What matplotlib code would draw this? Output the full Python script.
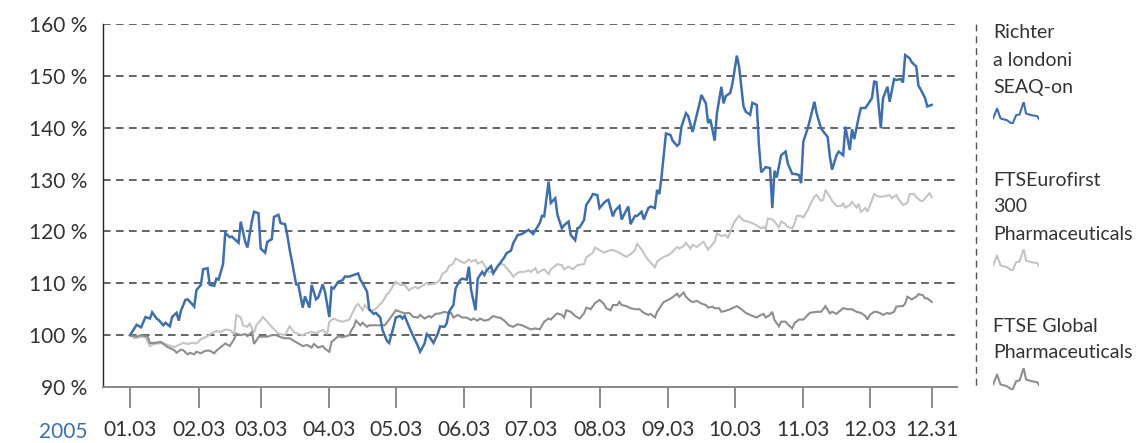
import numpy as np
import pandas as pd
import matplotlib
matplotlib.use("Agg")
import matplotlib.pyplot as plt
from matplotlib.lines import Line2D

plt.rcParams['font.family'] = ['Lato', 'DejaVu Sans']

# --- data -------------------------------------------------------------
start = pd.Timestamp("2005-01-03")
tick_dates = ["2005-01-03", "2005-02-03", "2005-03-03", "2005-04-03", "2005-05-03",
              "2005-06-03", "2005-07-03", "2005-08-03", "2005-09-03", "2005-10-03",
              "2005-11-03", "2005-12-03", "2005-12-31"]
yticks = [90, 100, 110, 120, 130, 140, 150, 160]
year_label = "2005"

# Richter a londoni SEAQ-on (days since 2005-01-03, index %)
richter_day = [0, 3, 5, 7, 9, 10, 12, 13, 15, 16, 18, 19, 21, 22, 23, 25, 26, 28, 29, 30,
               32, 33, 35, 36, 38, 39, 40, 42, 43, 45, 46, 48, 49, 50, 52, 53, 55, 56, 58, 59,
               61, 62, 64, 65, 67, 68, 70, 71, 72, 73, 75, 76, 78, 79, 81, 82, 84, 85, 87, 88,
               90, 91, 92, 94, 96, 97, 99, 101, 103, 104, 105, 107, 108, 110, 111, 113, 114, 116, 117, 119,
               120, 122, 123, 124, 126, 128, 130, 131, 133, 134, 135, 137, 139, 140, 142, 143, 144, 146, 147, 149,
               150, 152, 153, 154, 156, 157, 159, 160, 161, 163, 164, 166, 167, 169, 170, 172, 173, 175, 177, 178,
               180, 182, 185, 186, 187, 189, 190, 192, 193, 195, 196, 198, 199, 201, 202, 203, 205, 206, 208, 209,
               211, 212, 214, 215, 216, 218, 219, 221, 222, 223, 225, 226, 228, 229, 231, 232, 234, 235, 237, 238,
               239, 240, 241, 242, 244, 245, 247, 248, 249, 251, 252, 254, 255, 257, 258, 260, 261, 262, 264, 265,
               267, 268, 269, 271, 272, 274, 275, 277, 278, 280, 281, 283, 284, 285, 287, 289, 290, 291, 292, 294,
               296, 297, 299, 300, 302, 303, 304, 306, 307, 309, 310, 312, 313, 315, 316, 317, 319, 320, 322, 323,
               325, 326, 327, 329, 330, 332, 333, 335, 336, 337, 339, 340, 342, 343, 345, 346, 348, 349, 350, 352,
               353, 355, 356, 357, 359, 360, 362]
richter_val = [100.0, 102.0, 101.5, 103.5, 103.2, 104.4, 103.2, 102.9, 101.9, 102.4, 101.7, 103.5, 104.3, 102.8, 104.7, 106.8, 106.9, 106.0, 105.5, 108.7,
               109.7, 112.7, 112.9, 109.7, 109.5, 110.9, 110.7, 113.7, 119.7, 118.9, 119.0, 118.2, 117.8, 121.9, 118.0, 116.9, 121.9, 123.8, 123.5, 116.7,
               115.9, 118.0, 118.5, 122.8, 123.2, 121.6, 121.4, 119.3, 116.7, 114.5, 109.8, 109.7, 105.3, 107.5, 105.3, 109.7, 106.9, 107.3, 109.8, 108.4,
               103.5, 109.2, 109.0, 110.3, 110.6, 111.3, 111.3, 111.6, 111.9, 110.7, 110.0, 108.4, 105.0, 104.1, 104.3, 103.4, 101.0, 98.9, 98.5, 101.6,
               103.4, 103.7, 103.2, 103.7, 101.6, 99.7, 97.9, 96.8, 98.4, 100.2, 99.8, 98.5, 100.3, 101.7, 101.6, 102.3, 104.5, 105.8, 109.0, 110.6,
               110.9, 110.7, 113.2, 108.7, 104.8, 110.9, 112.2, 111.6, 112.5, 113.3, 111.9, 113.3, 113.8, 115.0, 115.8, 116.3, 117.7, 119.3, 119.5, 119.8,
               120.3, 119.5, 121.6, 123.0, 122.9, 129.6, 125.5, 126.4, 123.2, 120.6, 121.2, 121.9, 119.3, 118.3, 120.6, 120.8, 122.2, 125.1, 126.4, 127.2,
               127.0, 124.5, 125.5, 125.9, 126.1, 122.9, 124.0, 124.9, 122.3, 123.2, 124.8, 121.4, 123.0, 123.0, 123.8, 122.3, 124.5, 124.8, 124.5, 128.0,
               127.2, 130.6, 134.7, 138.9, 138.6, 137.5, 136.5, 136.9, 140.2, 142.8, 142.3, 139.2, 140.9, 144.4, 146.3, 144.7, 140.9, 141.6, 137.5, 142.8,
               147.9, 144.7, 146.1, 146.7, 148.5, 153.9, 151.8, 144.1, 143.1, 142.5, 144.8, 144.4, 136.4, 131.4, 132.4, 132.2, 124.5, 131.7, 130.4, 134.7,
               135.4, 133.1, 131.1, 131.1, 130.9, 129.3, 137.3, 139.9, 141.5, 145.0, 142.8, 139.9, 139.3, 138.2, 134.4, 131.9, 134.7, 135.4, 134.7, 140.2,
               135.7, 139.7, 137.8, 142.0, 143.8, 143.8, 144.4, 145.7, 148.9, 148.8, 139.9, 145.7, 147.9, 145.0, 149.4, 149.2, 149.4, 148.7, 154.0, 153.4,
               152.6, 151.8, 148.1, 147.4, 145.7, 144.1, 144.4]

# FTSEurofirst 300 Pharmaceuticals
euro_day = [0, 2, 5, 7, 9, 11, 13, 15, 17, 20, 22, 24, 26, 28, 30, 32, 35, 37, 39, 41,
            43, 45, 47, 48, 50, 51, 53, 54, 56, 57, 59, 60, 62, 64, 67, 68, 70, 72, 74, 76,
            78, 80, 82, 84, 87, 89, 90, 92, 94, 96, 99, 100, 102, 103, 105, 106, 108, 110, 111, 113,
            114, 116, 117, 119, 120, 122, 124, 126, 127, 129, 130, 132, 134, 135, 138, 140, 141, 143, 144, 146,
            147, 149, 151, 153, 154, 156, 157, 159, 160, 162, 164, 166, 167, 169, 170, 172, 173, 175, 176, 178,
            180, 181, 183, 184, 186, 187, 189, 190, 193, 195, 196, 198, 200, 202, 205, 206, 208, 209, 210, 212,
            214, 216, 218, 220, 222, 224, 226, 228, 229, 231, 233, 234, 237, 238, 239, 241, 243, 245, 247, 248,
            250, 251, 253, 254, 256, 257, 259, 261, 262, 264, 265, 267, 269, 270, 271, 273, 274, 275, 277, 279,
            281, 284, 285, 286, 287, 288, 290, 291, 293, 294, 296, 297, 299, 300, 301, 303, 304, 306, 307, 309,
            310, 312, 313, 314, 316, 317, 319, 321, 322, 323, 325, 326, 328, 329, 330, 332, 333, 335, 336, 338,
            339, 341, 343, 344, 346, 347, 349, 351, 352, 354, 355, 357, 358, 359, 361, 362]
euro_val = [100.0, 99.4, 99.7, 99.6, 97.9, 98.3, 98.4, 98.5, 98.1, 97.7, 98.1, 98.5, 98.3, 98.5, 98.4, 99.2, 99.8, 100.4, 100.8, 100.6,
            101.1, 101.0, 100.2, 103.9, 103.4, 101.9, 101.6, 102.3, 100.4, 101.9, 102.9, 103.5, 102.6, 101.6, 100.3, 100.2, 100.0, 101.7, 100.6, 100.2,
            100.0, 100.4, 100.6, 100.4, 101.0, 100.2, 102.6, 103.2, 102.8, 102.6, 103.0, 103.9, 105.6, 106.0, 104.8, 105.8, 104.8, 104.8, 105.1, 106.0,
            106.4, 107.9, 108.2, 109.7, 110.3, 109.7, 109.7, 108.6, 109.0, 109.3, 109.0, 109.5, 110.1, 109.7, 110.0, 110.7, 111.8, 112.4, 113.3, 113.8,
            114.8, 114.3, 113.9, 114.6, 114.2, 114.5, 113.8, 114.2, 113.5, 112.2, 112.2, 113.1, 113.8, 113.5, 112.9, 112.0, 111.3, 112.0, 112.2, 112.2,
            112.5, 112.2, 112.9, 112.0, 112.5, 112.7, 111.8, 112.7, 113.7, 113.5, 112.7, 113.2, 112.7, 113.5, 113.7, 115.0, 115.6, 115.9, 116.9, 116.4,
            115.9, 116.3, 116.4, 116.1, 115.6, 115.1, 115.6, 116.4, 117.6, 116.5, 115.1, 114.5, 113.1, 114.2, 114.5, 115.1, 115.4, 116.1, 117.0, 116.7,
            117.2, 117.8, 116.7, 117.4, 117.0, 117.4, 118.0, 116.5, 117.0, 118.0, 119.6, 119.1, 119.3, 118.7, 119.9, 121.9, 122.5, 123.0, 122.1, 121.9,
            121.6, 120.9, 120.6, 120.9, 120.5, 122.5, 122.3, 121.9, 120.8, 121.9, 121.4, 120.9, 120.6, 121.4, 123.0, 123.0, 122.7, 124.1, 125.1, 126.7,
            127.0, 125.9, 126.1, 128.0, 126.7, 125.9, 124.9, 124.9, 125.4, 124.6, 125.1, 125.7, 124.6, 125.3, 123.8, 124.5, 123.8, 126.1, 127.2, 126.7,
            126.7, 126.8, 127.0, 126.4, 127.0, 126.2, 125.1, 125.5, 127.2, 127.2, 126.6, 125.9, 125.9, 126.4, 127.4, 126.6]

# FTSE Global Pharmaceuticals
global_day = [0, 3, 5, 8, 9, 11, 14, 15, 17, 20, 21, 23, 24, 26, 27, 29, 30, 32, 34, 36,
              38, 39, 41, 43, 45, 47, 48, 50, 52, 53, 55, 56, 58, 59, 62, 64, 66, 68, 70, 72,
              74, 76, 78, 80, 82, 83, 85, 87, 88, 90, 91, 93, 94, 96, 99, 100, 101, 102, 104, 105,
              107, 108, 111, 113, 115, 117, 120, 122, 124, 126, 128, 130, 131, 133, 135, 136, 138, 140, 142, 144,
              145, 146, 148, 150, 152, 154, 155, 157, 158, 160, 162, 164, 166, 167, 169, 171, 173, 175, 177, 179,
              181, 183, 185, 187, 189, 190, 192, 193, 195, 196, 197, 199, 201, 203, 205, 206, 208, 210, 212, 214,
              215, 217, 218, 220, 221, 222, 224, 226, 228, 230, 232, 234, 235, 237, 238, 240, 241, 243, 245, 247,
              248, 250, 251, 253, 254, 256, 258, 260, 261, 263, 264, 266, 267, 269, 271, 272, 274, 276, 278, 279,
              281, 283, 284, 286, 287, 289, 290, 291, 293, 294, 296, 297, 299, 300, 302, 304, 306, 307, 310, 312,
              313, 314, 316, 317, 319, 320, 322, 324, 326, 328, 330, 332, 333, 334, 336, 337, 339, 340, 342, 343,
              345, 346, 348, 349, 350, 351, 353, 355, 356, 358, 359, 360, 362]
global_val = [100.0, 99.7, 100.0, 99.7, 98.5, 98.5, 98.7, 98.3, 97.7, 97.1, 96.6, 97.2, 97.1, 96.3, 96.6, 96.3, 96.8, 96.5, 97.0, 97.0,
              96.5, 97.0, 97.7, 98.4, 97.9, 99.2, 100.3, 100.0, 100.2, 99.8, 100.6, 98.3, 99.6, 99.7, 99.7, 100.0, 100.0, 99.6, 99.4, 99.4,
              98.9, 98.4, 97.9, 98.1, 97.6, 98.3, 97.6, 97.9, 97.4, 96.8, 98.7, 99.4, 99.8, 99.6, 100.0, 101.0, 101.6, 102.8, 101.9, 102.4,
              101.6, 101.9, 101.9, 101.9, 101.9, 103.0, 104.8, 104.5, 104.2, 104.3, 103.5, 103.4, 103.9, 103.2, 103.7, 103.4, 104.1, 104.2, 104.5, 104.2,
              104.3, 103.4, 103.9, 103.4, 103.4, 102.9, 103.2, 102.8, 103.2, 102.8, 103.0, 103.7, 103.4, 103.4, 102.8, 101.9, 101.6, 102.1, 101.9, 101.5,
              101.1, 101.3, 101.1, 102.6, 103.2, 103.0, 103.9, 104.2, 103.9, 103.4, 104.8, 104.5, 103.7, 103.2, 104.2, 105.3, 105.0, 106.2, 106.8, 106.0,
              105.2, 104.8, 105.8, 105.8, 106.4, 105.8, 105.6, 105.2, 105.0, 105.0, 104.3, 103.9, 104.1, 103.4, 104.5, 105.8, 106.4, 106.8, 107.3, 108.0,
              107.4, 108.2, 107.4, 106.6, 106.4, 106.6, 106.1, 105.8, 105.3, 105.5, 105.2, 105.2, 104.5, 104.7, 105.0, 105.2, 105.6, 105.0, 104.3, 104.1,
              103.7, 103.4, 103.7, 104.1, 103.4, 103.9, 104.5, 102.9, 101.7, 102.6, 102.6, 102.1, 101.3, 102.3, 103.0, 103.0, 103.9, 104.3, 104.5, 104.5,
              105.0, 105.6, 104.2, 104.5, 104.1, 104.5, 105.2, 105.0, 105.0, 104.5, 104.3, 103.7, 103.0, 103.9, 104.5, 104.5, 104.2, 103.9, 104.3, 104.1,
              104.5, 105.5, 105.6, 105.6, 106.1, 107.4, 106.9, 107.4, 107.9, 107.7, 107.1, 107.1, 106.4]

legend_labels = [["Richter", "a londoni", "SEAQ-on"],
                 ["FTSEurofirst", "300", "Pharmaceuticals"],
                 ["FTSE Global", "Pharmaceuticals"]]
icon_x = [0, 12, 22, 40, 57, 68, 78, 90, 97, 112, 130, 135]
icon_y = [17, 47, 17, 12, 0, 27, 29, 67, 32, 27, 24, 15]

# --- style ------------------------------------------------------------
blue = '#3f6fab'
light = '#c4c4c4'
dark = '#8e8e8e'
text_col = '#333333'
series = [(euro_day, euro_val, light, 1.5),
          (global_day, global_val, dark, 1.5),
          (richter_day, richter_val, blue, 1.8)]
legend_colors = [blue, light, dark]

W, H = 1141, 443
fig = plt.figure(figsize=(W / 100, H / 100), dpi=100)
ax = fig.add_axes([103 / W, 1 - 387 / H, (957 - 103) / W, (387 - 24) / H])

for d, v, c, lw in series:
    ax.plot(d, v, color=c, lw=lw, solid_joinstyle='miter')

for y in yticks[1:]:
    ax.axhline(y, color='#3a3a3a', lw=1.1, linestyle=(0, (5, 3.5)), zorder=0)

tick_pos = [(pd.Timestamp(t) - start).days for t in tick_dates]
tick_lab = [pd.Timestamp(t).strftime('%m.%d') for t in tick_dates]
ax.set_xticks(tick_pos)
ax.set_xticklabels(tick_lab)
ax.set_xlim(-12.2, 373.4)
ax.set_yticks(yticks)
ax.set_yticklabels([f"{v} %" for v in yticks])
ax.set_ylim(90, 160)

for s in ['top', 'right']:
    ax.spines[s].set_visible(False)
ax.spines['left'].set_color('#222222')
ax.spines['left'].set_linewidth(1.0)
ax.spines['bottom'].set_color('#888888')
ax.spines['bottom'].set_linewidth(1.4)

ax.tick_params(axis='x', length=15, width=1.2, color='#777777', pad=9,
               labelsize=15, labelcolor=text_col)
ax.tick_params(axis='y', length=0, pad=11, labelsize=15, labelcolor=text_col)

fig.text(88 / W, 1 - 432 / H, year_label, ha='right', va='center',
         fontsize=15, color=blue)

# legend column
fig.add_artist(Line2D([976 / W, 976 / W], [1 - 24 / H, 1 - 387 / H],
                      transform=fig.transFigure, color='#555555', lw=1.0,
                      linestyle=(0, (5, 3.5))))
group_top = [33, 180, 326]
for lines, c, y0 in zip(legend_labels, legend_colors, group_top):
    for j, line in enumerate(lines):
        fig.text(993 / W, 1 - (y0 + 27 * j) / H, line, ha='left', va='center',
                 fontsize=14, color=text_col)
    icon_top = y0 + 27 * (len(lines) - 1) + 15
    iax = fig.add_axes([993 / W, 1 - (icon_top + 22) / H, 46 / W, 22 / H])
    iax.plot(icon_x, icon_y, color=c, lw=1.5)
    iax.set_xlim(0, 135)
    iax.set_ylim(0, 67)
    iax.axis('off')

fig.savefig('out.png', dpi=100)
